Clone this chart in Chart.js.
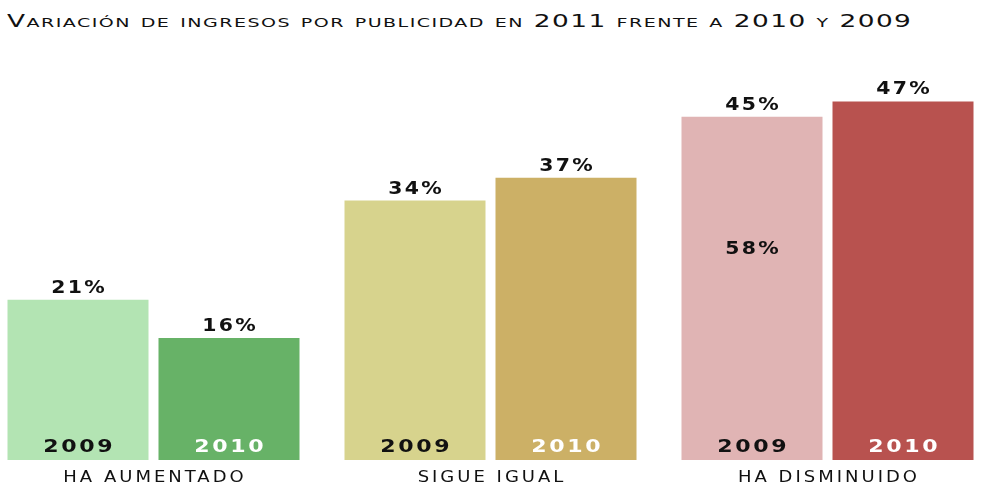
<!DOCTYPE html>
<html>
<head>
<meta charset="utf-8">
<script src="https://cdn.jsdelivr.net/npm/chart.js@4.4.0/dist/chart.umd.min.js"></script>
<style>
html, body { margin: 0; padding: 0; background: #fff; overflow: hidden; width: 984px; height: 487px; position: relative; }
#titulo { position: absolute; left: 7px; top: 10px; font-family: 'DejaVu Sans'; font-size: 18px; font-variant: small-caps; letter-spacing: 1px; white-space: nowrap; color: #111; transform-origin: 0 0; }
#grafico { position: absolute; left: -15px; top: 0; }
</style>
</head>
<body>
<div id="titulo">Variación de ingresos por publicidad en 2011 frente a 2010 y 2009</div>
<canvas id="grafico" width="1011" height="487"></canvas>
<script>
(function () {

    'use strict'

    // datos
    var categorias = ['HA AUMENTADO', 'SIGUE IGUAL', 'HA DISMINUIDO'];
    var anios = ['2009', '2010'];
    var valores2009 = [21, 34, 45];
    var valores2010 = [16, 37, 47];
    var colores2009 = ['#b3e4b3', '#d7d38d', '#e0b4b4'];
    var colores2010 = ['#67b267', '#ccb066', '#b8524f'];
    var textoAnio = ['#111111', '#ffffff'];
    var notaTexto = '58%';
    var notaSerie = 0, notaIndice = 2, notaValor = 27;

    // ajustar el ancho del titulo
    var titulo = document.getElementById('titulo');
    titulo.style.transform = 'scaleX(' + (905 / titulo.offsetWidth) + ')';

    function texto(ctx, txt, x, y, fuente, color, sx, ls) {
        ctx.save();
        ctx.translate(x, y);
        ctx.scale(sx, 1);
        ctx.font = fuente;
        ctx.fillStyle = color;
        ctx.textAlign = 'center';
        ctx.textBaseline = 'alphabetic';
        ctx.letterSpacing = ls + 'px';
        ctx.fillText(txt, ls / 2, 0);
        ctx.restore();
    }

    var etiquetas = {
        id: 'etiquetas',
        afterDatasetsDraw: function (chart) {
            var ctx = chart.ctx;
            var negrita = 'bold 17px "DejaVu Sans"';
            chart.data.datasets.forEach(function (ds, i) {
                var meta = chart.getDatasetMeta(i);
                meta.data.forEach(function (bar, j) {
                    texto(ctx, ds.data[j] + '%', bar.x, bar.y - 7, negrita, '#111', 1.2, 2);
                    texto(ctx, anios[i], bar.x, bar.base - 8, negrita, textoAnio[i], 1.3, 2);
                });
            });
            var nb = chart.getDatasetMeta(notaSerie).data[notaIndice];
            texto(ctx, notaTexto, nb.x, chart.scales.y.getPixelForValue(notaValor), negrita, '#111', 1.2, 2);
            categorias.forEach(function (c, k) {
                texto(ctx, c, chart.scales.x.getPixelForValue(k), 482, '15px "DejaVu Sans"', '#111', 1.2, 2.5);
            });
        }
    };

    new Chart(document.getElementById('grafico').getContext('2d'), {
        type: 'bar',
        data: {
            labels: categorias,
            datasets: [
                { label: anios[0], data: valores2009, backgroundColor: colores2009 },
                { label: anios[1], data: valores2010, backgroundColor: colores2010 }
            ]
        },
        options: {
            responsive: false,
            animation: false,
            categoryPercentage: 302 / 337,
            barPercentage: 141 / 151,
            layout: { padding: { top: 78.5, bottom: 27, left: 0, right: 0 } },
            scales: {
                x: { display: false },
                y: { display: false, min: 0, max: 50 }
            },
            plugins: {
                legend: { display: false },
                tooltip: { enabled: false }
            }
        },
        plugins: [etiquetas]
    });

})();
</script>
</body>
</html>
